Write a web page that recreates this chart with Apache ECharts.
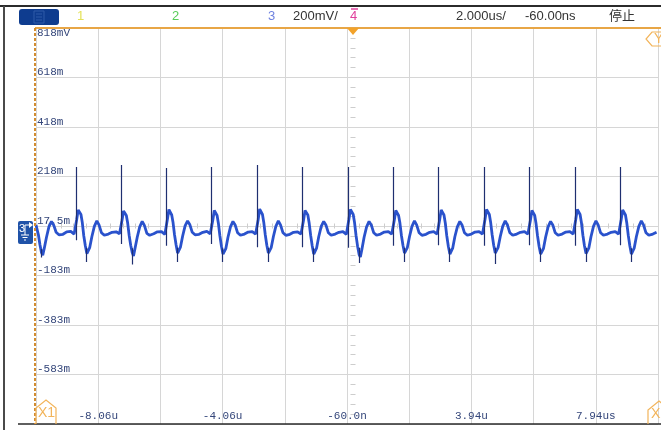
<!DOCTYPE html>
<html><head><meta charset="utf-8">
<script src="https://cdn.jsdelivr.net/npm/echarts@6/dist/echarts.min.js"></script>
<style>html,body{margin:0;padding:0;background:#fff}#c{width:661px;height:430px}</style>
</head><body><div id="c"></div>
<script>
// Time (us) and voltage (mV) of the channel-3 trace
const traceT = [
-10.06,-10.033,-9.983,-9.933,-9.883,-9.843,-9.793,-9.723,-9.643,-9.563,-9.493,-9.413,-9.323,-9.193,-9.073,-8.943,
-8.834,-8.784,-8.754,-8.704,-8.664,-8.614,-8.574,-8.524,-8.474,-8.424,-8.384,-8.334,-8.264,-8.184,-8.104,-8.034,-7.954,-7.864,-7.734,-7.614,-7.484,
-7.375,-7.325,-7.295,-7.245,-7.205,-7.155,-7.115,-7.065,-7.015,-6.965,-6.925,-6.875,-6.805,-6.725,-6.645,-6.575,-6.495,-6.405,-6.275,-6.155,-6.025,
-5.916,-5.866,-5.836,-5.786,-5.746,-5.696,-5.656,-5.606,-5.556,-5.506,-5.466,-5.416,-5.346,-5.266,-5.186,-5.116,-5.036,-4.946,-4.816,-4.696,-4.566,
-4.457,-4.407,-4.377,-4.327,-4.287,-4.237,-4.197,-4.147,-4.097,-4.047,-4.007,-3.957,-3.887,-3.807,-3.727,-3.657,-3.577,-3.487,-3.357,-3.237,-3.107,
-2.998,-2.948,-2.918,-2.868,-2.828,-2.778,-2.738,-2.688,-2.638,-2.588,-2.548,-2.498,-2.428,-2.348,-2.268,-2.198,-2.118,-2.028,-1.898,-1.778,-1.648,
-1.539,-1.489,-1.459,-1.409,-1.369,-1.319,-1.279,-1.229,-1.179,-1.129,-1.089,-1.039,-0.969,-0.889,-0.809,-0.739,-0.659,-0.569,-0.439,-0.319,-0.189,
-0.080,-0.030,0.000,0.050,0.090,0.140,0.180,0.230,0.280,0.330,0.370,0.420,0.490,0.570,0.650,0.720,0.800,0.890,1.020,1.140,1.270,
1.379,1.429,1.459,1.509,1.549,1.599,1.639,1.689,1.739,1.789,1.829,1.879,1.949,2.029,2.109,2.179,2.259,2.349,2.479,2.599,2.729,
2.838,2.888,2.918,2.968,3.008,3.058,3.098,3.148,3.198,3.248,3.288,3.338,3.408,3.488,3.568,3.638,3.718,3.808,3.938,4.058,4.188,
4.297,4.347,4.377,4.427,4.467,4.517,4.557,4.607,4.657,4.707,4.747,4.797,4.867,4.947,5.027,5.097,5.177,5.267,5.397,5.517,5.647,
5.756,5.806,5.836,5.886,5.926,5.976,6.016,6.066,6.116,6.166,6.206,6.256,6.326,6.406,6.486,6.556,6.636,6.726,6.856,6.976,7.106,
7.215,7.265,7.295,7.345,7.385,7.435,7.475,7.525,7.575,7.625,7.665,7.715,7.785,7.865,7.945,8.015,8.095,8.185,8.315,8.435,8.565,
8.674,8.724,8.754,8.804,8.844,8.894,8.934,8.984,9.034,9.084,9.124,9.174,9.244,9.324,9.404,9.474,9.554,9.644,9.774,9.894
];
const traceV = [
22,30,-18,-58,-90,-100,-72,-28,15,36,22,-8,-18,-16,-6,-4,
-15,-20,42,82,90,64,34,-22,-62,-94,-100,-70,-26,16,38,22,-10,-20,-15,-8,-6,
-14,-22,40,78,86,60,32,-20,-60,-90,-104,-72,-28,14,36,20,-12,-20,-14,-6,-5,
-16,-20,44,84,92,62,34,-18,-58,-92,-98,-68,-24,18,38,24,-8,-18,-16,-8,-4,
-14,-18,40,80,88,60,30,-22,-64,-96,-102,-74,-28,14,36,22,-10,-20,-15,-7,-5,
-15,-20,42,86,92,64,34,-18,-60,-92,-100,-70,-26,16,38,22,-10,-20,-16,-8,-6,
-15,-22,40,80,88,62,32,-20,-62,-96,-104,-72,-26,16,36,22,-10,-20,-15,-8,-5,
-16,-20,44,84,92,64,34,-20,-64,-98,-108,-76,-28,14,36,22,-10,-20,-15,-7,-5,
-15,-20,40,80,88,60,32,-20,-60,-92,-100,-70,-26,16,38,22,-10,-20,-16,-8,-5,
-15,-22,42,82,90,62,32,-22,-64,-96,-104,-72,-26,14,36,22,-10,-20,-15,-7,-5,
-15,-20,44,84,92,64,34,-18,-60,-92,-100,-70,-26,16,38,22,-10,-20,-15,-8,-5,
-15,-20,40,80,88,60,30,-22,-64,-96,-104,-74,-28,14,36,22,-10,-20,-15,-7,-5,
-15,-20,44,84,92,64,34,-20,-62,-94,-102,-72,-26,16,38,22,-10,-20,-15,-8,-5,
-15,-20,42,82,90,62,32,-20,-62,-96,-104,-72,-26,16,38,22,-10,-20,-15,-8
];
// narrow spikes (dark persistence)
const spikeT      = [-8.78,-7.33,-5.87,-4.41,-2.95,-1.49,-0.03,1.43,2.89,4.35,5.81,7.27,8.72];
const spikeTop    = [256,264,252,256,264,256,256,256,256,256,256,256,256];
const spikeBottom = [-40,-55,-62,-55,-68,-68,-70,-62,-60,-62,-60,-62,-60];
// glitches at the bottom of each dip
const glitchT      = [-9.89,-8.43,-6.97,-5.52,-4.06,-2.60,-1.14,0.32,1.78,3.24,4.70,6.16,7.62,9.07];
const glitchTop    = [-75,-70,-72,-70,-72,-70,-72,-70,-70,-72,-70,-72,-70,-72];
const glitchBottom = [-110,-128,-138,-128,-128,-128,-128,-132,-128,-128,-136,-128,-128,-128];

const xTickLabels = ['', '-8.06u', '', '-4.06u', '', '-60.0n', '', '3.94u', '', '7.94us', ''];
const yTickLabels = ['', '-583m', '-383m', '-183m', '17.5m', '218m', '418m', '618m', '818mV'];

const headerItems = [
  {text:'1', x:77, color:'#e4e25a'},
  {text:'2', x:172, color:'#58cc58'},
  {text:'3', x:268, color:'#6f82e0'},
  {text:'200mV/', x:293, color:'#333'},
  {text:'4', x:350, color:'#e0409c'},
  {text:'2.000us/', x:456, color:'#333'},
  {text:'-60.00ns', x:525, color:'#333'},
  {text:'停止', x:609, color:'#333'}
];

const chart = echarts.init(document.getElementById('c'), null, {renderer:'canvas'});
const labelFont = {fontFamily:'Liberation Mono', fontSize:11, color:'#34467a'};
const segs = spikeT.map((t,i)=>({coords:[[t,spikeTop[i]],[t,spikeBottom[i]]]}))
  .concat(glitchT.map((t,i)=>({coords:[[t,glitchTop[i]],[t,glitchBottom[i]]]})));

const xBase = {type:'value', min:-10.06, max:9.94, interval:2};
const yBase = {type:'value', min:-782.5, max:817.5, interval:200};
const tickStyle = {color:'#cdcdcd', width:1};

const orange = '#e8a646';
const graphics = [
  {type:'line', shape:{x1:0,y1:6,x2:661,y2:6}, style:{stroke:'#2b2b2b', lineWidth:2}, z:100},
  {type:'line', shape:{x1:4,y1:6,x2:4,y2:430}, style:{stroke:'#4a4a4a', lineWidth:2}, z:100},
  {type:'line', shape:{x1:18,y1:424,x2:661,y2:424}, style:{stroke:'#2a2a2a', lineWidth:1.5}, z:100},
  {type:'line', shape:{x1:35,y1:28,x2:661,y2:28}, style:{stroke:orange, lineWidth:2}, z:100},
  {type:'line', shape:{x1:35,y1:28,x2:35,y2:424}, style:{stroke:'#d18c30', lineWidth:2, lineDash:[3,2]}, z:100},
  {type:'polygon', shape:{points:[[347,28],[359,28],[353,35]]}, style:{fill:'#f2a22a'}, z:101},
  {type:'rect', shape:{x:19,y:9,width:40,height:16,r:3}, style:{fill:'#0e3c8f'}, z:100},
  {type:'rect', shape:{x:34,y:11,width:10,height:12}, style:{fill:'none', stroke:'#2f5aa8', lineWidth:1}, z:101},
  {type:'line', shape:{x1:36,y1:14,x2:42,y2:14}, style:{stroke:'#2f5aa8', lineWidth:1}, z:101},
  {type:'line', shape:{x1:36,y1:17,x2:42,y2:17}, style:{stroke:'#2f5aa8', lineWidth:1}, z:101},
  {type:'line', shape:{x1:36,y1:20,x2:42,y2:20}, style:{stroke:'#2f5aa8', lineWidth:1}, z:101},
  {type:'line', shape:{x1:351,y1:9,x2:358,y2:9}, style:{stroke:'#e0409c', lineWidth:1.5}, z:101},
  // channel-3 ground marker
  {type:'rect', shape:{x:18,y:221,width:15,height:23,r:2}, style:{fill:'#1f52a8'}, z:100},
  {type:'text', x:19, y:223, style:{text:'3', fill:'#fff', font:'11px Liberation Sans'}, z:101},
  {type:'polyline', shape:{points:[[25,231],[25,225],[30,225]]}, style:{stroke:'#fff', lineWidth:1, fill:'none'}, z:101},
  {type:'polygon', shape:{points:[[29,222],[33,225],[29,228]]}, style:{fill:'#fff'}, z:101},
  {type:'line', shape:{x1:21,y1:235,x2:29,y2:235}, style:{stroke:'#fff', lineWidth:1}, z:101},
  {type:'line', shape:{x1:22.5,y1:237.5,x2:27.5,y2:237.5}, style:{stroke:'#fff', lineWidth:1}, z:101},
  {type:'line', shape:{x1:24,y1:240,x2:26,y2:240}, style:{stroke:'#fff', lineWidth:1}, z:101},
  {type:'line', shape:{x1:25,y1:231,x2:25,y2:235}, style:{stroke:'#fff', lineWidth:1}, z:101},
  // cursor markers
  {type:'polyline', shape:{points:[[36,424],[36,408],[46,400],[56,408],[56,424]]}, style:{stroke:'#f2b45a', lineWidth:1.2, fill:'none'}, z:100},
  {type:'text', x:38, y:406, style:{text:'X1', fill:'#f2b45a', font:'14px Liberation Sans'}, z:100},
  {type:'polyline', shape:{points:[[648,424],[648,410],[659,401],[670,410],[670,424]]}, style:{stroke:'#f2b45a', lineWidth:1.2, fill:'none'}, z:100},
  {type:'text', x:651, y:407, style:{text:'X2', fill:'#f2b45a', font:'14px Liberation Sans'}, z:100},
  {type:'polyline', shape:{points:[[672,32],[652,32],[646,39],[652,46],[672,46]]}, style:{stroke:'#f2b45a', lineWidth:1.2, fill:'none'}, z:100},
  {type:'text', x:654, y:32, style:{text:'Y1', fill:'#f2b45a', font:'14px Liberation Sans'}, z:100}
];
headerItems.forEach(h => graphics.push({type:'text', x:h.x, y:10, style:{text:h.text, fill:h.color, font:'13px "Liberation Sans", "Noto Sans CJK SC"'}, z:100}));

chart.setOption({
  animation:false,
  backgroundColor:'#fff',
  grid:{left:36, top:28, width:635, height:396},
  xAxis:[
    Object.assign({}, xBase, {
      axisLine:{show:false}, axisTick:{show:false},
      splitLine:{show:true, lineStyle:{color:'#d6d6d6', width:1}},
      axisLabel:Object.assign({inside:true, margin:2, showMinLabel:true, showMaxLabel:true,
        formatter:(v,i)=>xTickLabels[i]||''}, labelFont)
    }),
    Object.assign({}, xBase, {position:'bottom', offset:-198, axisLine:{show:false},
      axisTick:{show:false}, axisLabel:{show:false}, splitLine:{show:false},
      minorTick:{show:true, splitNumber:5, length:2.5, lineStyle:tickStyle}}),
    Object.assign({}, xBase, {position:'bottom', offset:-198, axisLine:{show:false},
      axisTick:{show:false, inside:true}, axisLabel:{show:false}, splitLine:{show:false},
      minorTick:{show:true, splitNumber:5, length:2.5, lineStyle:tickStyle}})
  ],
  yAxis:[
    Object.assign({}, yBase, {
      axisLine:{show:false}, axisTick:{show:false},
      splitLine:{show:true, lineStyle:{color:'#d6d6d6', width:1}},
      axisLabel:Object.assign({inside:true, margin:1, verticalAlign:'middle', lineHeight:10, align:'left',
        showMinLabel:true, showMaxLabel:true,
        formatter:(v,i)=>{ const s = yTickLabels[i]||''; if(!s) return ''; return i===yTickLabels.length-1 ? ' \n'+s : s+'\n '; }}, labelFont)
    }),
    Object.assign({}, yBase, {position:'left', offset:-317, axisLine:{show:false},
      axisTick:{show:false}, axisLabel:{show:false}, splitLine:{show:false},
      minorTick:{show:true, splitNumber:5, length:2.5, lineStyle:tickStyle}}),
    Object.assign({}, yBase, {position:'left', offset:-317, axisLine:{show:false},
      axisTick:{show:false, inside:true}, axisLabel:{show:false}, splitLine:{show:false},
      minorTick:{show:true, splitNumber:5, length:2.5, lineStyle:tickStyle}})
  ],
  series:[
    {type:'line', xAxisIndex:0, yAxisIndex:0, data:traceT.map((t,i)=>[t, traceV[i]]),
      symbol:'none', showSymbol:false, lineStyle:{color:'#2a52cc', width:2.8}, z:3},
    {type:'lines', coordinateSystem:'cartesian2d', xAxisIndex:0, yAxisIndex:0, polyline:false,
      lineStyle:{color:'#1f2f70', width:1.2, opacity:1, curveness:0}, data:segs, z:4}
  ],
  graphic:graphics
});
</script></body></html>
